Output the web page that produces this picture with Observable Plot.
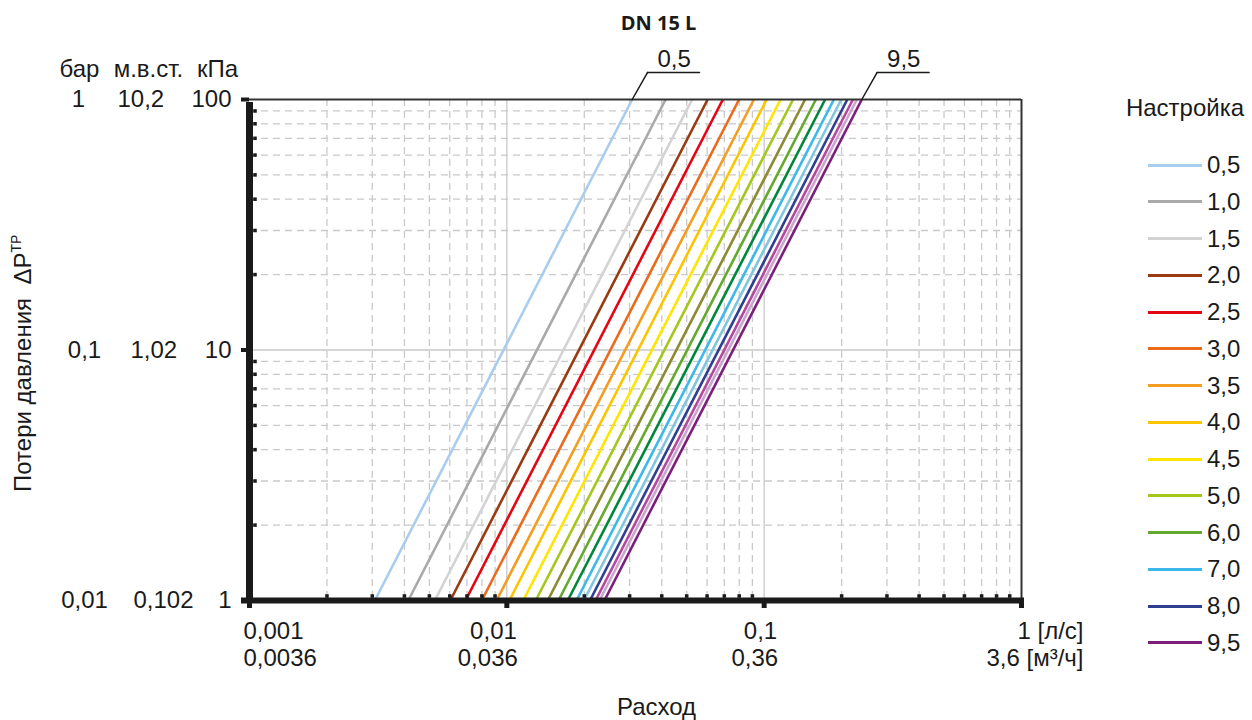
<!DOCTYPE html>
<html><head><meta charset="utf-8">
<script src="https://cdn.jsdelivr.net/npm/d3@7"></script>
<script src="https://cdn.jsdelivr.net/npm/@observablehq/plot@0.6"></script>
<style>
html,body{margin:0;padding:0;background:#fff;}
#wrap{position:relative;width:1252px;height:720px;font-family:"Liberation Sans",Arial,sans-serif;color:#1a1a1a;}
#legend{position:absolute;left:1100px;top:0;width:152px;height:720px;}
.lg-title{position:absolute;left:0;width:170px;text-align:center;height:26px;line-height:26px;font-size:24px;}
.lg-item{position:absolute;left:48px;height:26px;display:flex;align-items:center;font-size:24px;}
.lg-item .sw{width:54px;height:3px;margin-right:5px;}
</style></head><body><div id="wrap"></div>
<script>
// ---- data ----
const settings = ["0,5","1,0","1,5","2,0","2,5","3,0","3,5","4,0","4,5","5,0","5,5","6,0","6,5","7,0","7,5","8,0","8,5","9,0","9,5"];
const flowAt1kPa = [0.00307,0.00414,0.00525,0.00603,0.00691,0.00799,0.00912,0.01023,0.01158,0.01295,0.01442,0.01588,0.01725,0.01866,0.01993,0.02104,0.02212,0.02292,0.02395];
const flowAt100kPa = [0.0307,0.0414,0.0525,0.0603,0.0691,0.0799,0.0912,0.1023,0.1158,0.1295,0.1442,0.1588,0.1725,0.1866,0.1993,0.2104,0.2212,0.2292,0.2395];
const colors = ["#a9cdee","#a9a9a9","#d3d3d3","#993a13","#e30613","#ec6a1c","#f39c1f","#fcc500","#ffe500","#a5c71c","#8c8a33","#64a92f","#00873c","#3cb9ea","#82c6dd","#2e3f8f","#b4489d","#c9a5d0","#7b1f7b"];
const legendSettings = ["0,5","1,0","1,5","2,0","2,5","3,0","3,5","4,0","4,5","5,0","6,0","7,0","8,0","9,5"];
const kpaTicks = [1,10,100];
const kpaLabels = ["1","10","100"];
const mwcLabels = ["0,102","1,02","10,2"];
const barLabels = ["0,01","0,1","1"];
const flowTicks = [0.001,0.01,0.1,1];
const lsLabels = ["0,001","0,01","0,1","1 [л/с]"];
const m3hLabels = ["0,0036","0,036","0,36","3,6 [м³/ч]"];
const minorMult = [2,3,4,5,6,7,8,9];
const title = "DN 15 L";

const rows = settings.map((s,i)=>({s, q1:flowAt1kPa[i], q100:flowAt100kPa[i], c:colors[i]}));
const xMinor = flowTicks.slice(0,3).flatMap(d=>minorMult.map(m=>m*d));
const yMinor = kpaTicks.slice(0,2).flatMap(d=>minorMult.map(m=>m*d));
const gridC = "#c9c9c9", dash = "7,5", ink = "#1a1a1a";
const FS = 24;
const segShape = {draw(ctx, l){ ctx.moveTo(0,0); ctx.lineTo(0,-l); }};
const leaderRows = [rows[0], rows[rows.length-1]];

const xlab = (i, labels, anchor, dx, dy) => Plot.text([i], {x:j=>flowTicks[j], y:()=>1, text:j=>labels[j], textAnchor:anchor, dx, dy, lineAnchor:"middle", fontSize:FS, fill:ink});
const ylab = (i, labels, anchor, dx) => Plot.text([i], {frameAnchor:"left", y:j=>kpaTicks[j], text:j=>labels[j], textAnchor:anchor, dx, lineAnchor:"middle", fontSize:FS, fill:ink});
const fixed = (t, anchor, dx, dy, extra={}) => Plot.text([t], {frameAnchor:anchor, text:d=>d, textAnchor:"middle", dx, dy, lineAnchor:"middle", fontSize:FS, fill:ink, ...extra});

const plot = Plot.plot({
  width:1252, height:720,
  marginLeft:249, marginRight:231, marginTop:99, marginBottom:120,
  style:{fontFamily:"'Liberation Sans', Arial, sans-serif", fontSize:"24px", color:ink, background:"#fff", overflow:"visible"},
  x:{type:"log", domain:[0.001,1], axis:null},
  y:{type:"log", domain:[1,100], axis:null},
  color:{type:"identity"},
  marks:[
    Plot.ruleX(xMinor, {stroke:gridC, strokeDasharray:dash, strokeWidth:1.3}),
    Plot.ruleY(yMinor, {stroke:gridC, strokeDasharray:dash, strokeWidth:1.3}),
    Plot.ruleX([0.01,0.1], {stroke:gridC, strokeWidth:1.3}),
    Plot.ruleY([10], {stroke:gridC, strokeWidth:1.3}),
    Plot.link(rows, {x1:"q1", y1:()=>1, x2:"q100", y2:()=>100, stroke:"c", strokeWidth:2.6}),
    // frame top/right
    Plot.ruleY([100], {stroke:"#333", strokeWidth:2}),
    Plot.ruleX([1], {stroke:"#333", strokeWidth:2}),
    // thick axes
    Plot.ruleX([0.001], {y1:()=>1, y2:()=>100, stroke:ink, strokeWidth:7, insetTop:-1, insetBottom:-3}),
    Plot.ruleY([1], {x1:()=>0.001, x2:()=>1, stroke:ink, strokeWidth:6, insetLeft:-8, insetRight:-3}),
    Plot.axisX(flowTicks, {anchor:"bottom", tickSize:8, strokeWidth:5, stroke:ink, fill:"none"}),
    Plot.axisY(kpaTicks, {anchor:"left", tickSize:8, strokeWidth:4, stroke:ink, fill:"none"}),
    Plot.dot(xMinor, {x:d=>d, y:()=>1, symbol:"square", r:2, fill:ink, dy:-4.5}),
    Plot.dot(yMinor, {x:()=>0.001, y:d=>d, symbol:"square", r:2, fill:ink, dx:5.5}),
    // leader lines
    Plot.vector(leaderRows, {x:"q100", y:()=>100, length:31, rotate:29.5, anchor:"start", shape:segShape, stroke:ink, strokeWidth:1.5}),
    Plot.vector(leaderRows, {x:"q100", y:()=>100, length:52, rotate:90, anchor:"start", shape:segShape, stroke:ink, strokeWidth:1.5, dx:15.3, dy:-27}),
    Plot.text(leaderRows, {x:"q100", y:()=>100, text:"s", dx:42, dy:-40, lineAnchor:"middle", fontSize:FS, fill:ink}),
    // y tick labels (three unit columns)
    ...kpaTicks.map((_,i)=>ylab(i, kpaLabels, "end", -18)),
    ylab(0, mwcLabels, "start", -116), ylab(1, mwcLabels, "start", -119), ylab(2, mwcLabels, "start", -132),
    ylab(0, barLabels, "middle", -165), ylab(1, barLabels, "middle", -165), ylab(2, barLabels, "middle", -171),
    fixed("бар", "top-left", -170, -30),
    fixed("м.в.ст.", "top-left", -101, -30),
    fixed("кПа", "top-left", -32, -30),
    // x tick labels (two unit rows)
    xlab(0, lsLabels, "start", -6, 31), xlab(1, lsLabels, "end", 10, 31), xlab(2, lsLabels, "end", 13, 31), xlab(3, lsLabels, "end", 62, 31),
    xlab(0, m3hLabels, "start", -6, 58), xlab(1, m3hLabels, "end", 11, 58), xlab(2, m3hLabels, "end", 14, 58), xlab(3, m3hLabels, "end", 62, 58),
    fixed("Расход", "bottom-left", 407, 107),
    fixed(title, "top-left", 409, -76, {fontFamily:"'Open Sans', sans-serif", fontWeight:"bold", fontSize:20})
  ]
});

// rotated y axis title with superscript
const ytitle = d3.select(plot).append("text")
  .attr("transform","translate(31,492) rotate(-90)")
  .attr("text-anchor","start")
  .attr("fill",ink)
  .style("font-size", FS+"px")
  .style("white-space","pre");
ytitle.append("tspan").text("Потери давления  ΔP");
ytitle.append("tspan").attr("dy",-10).style("font-size","14px").text("ТР");

const wrap = document.getElementById("wrap");
wrap.appendChild(plot);

// legend
const lg = document.createElement("div");
lg.id = "legend";
const lt = document.createElement("div");
lt.className = "lg-title"; lt.style.top = (108-13)+"px"; lt.textContent = "Настройка";
lg.appendChild(lt);
legendSettings.forEach((s,k)=>{
  const i = settings.indexOf(s);
  const it = document.createElement("div");
  it.className = "lg-item";
  it.style.top = (165 + k*36.75 - 13) + "px";
  const sw = document.createElement("span"); sw.className="sw"; sw.style.background = colors[i];
  const tx = document.createElement("span"); tx.textContent = s;
  it.appendChild(sw); it.appendChild(tx);
  lg.appendChild(it);
});
wrap.appendChild(lg);
</script>
</body></html>
